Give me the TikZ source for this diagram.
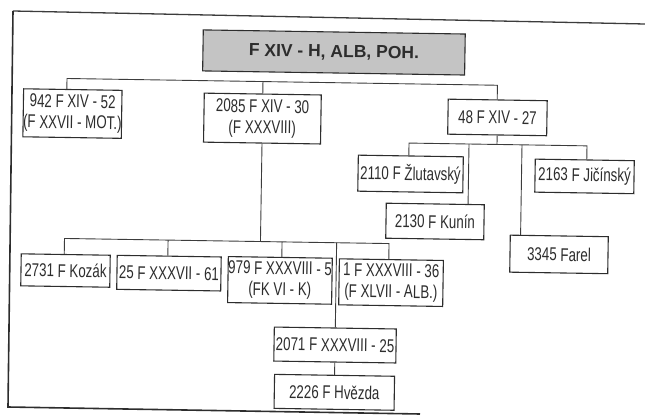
\documentclass[tikz,border=0pt]{standalone}
\usepackage{fontspec}
\setmainfont{Liberation Sans}
\newfontfamily\boxfont{Liberation Sans}[FakeStretch=0.72]
\definecolor{inkc}{RGB}{45,45,45}
\definecolor{linec}{RGB}{60,60,60}
\definecolor{titlefill}{RGB}{196,196,196}
\tikzset{
  framel/.style={draw=inkc, line width=1.6pt},
  box/.style={draw=inkc, line width=1.1pt, fill=white, inner sep=0pt, align=center,
    text=inkc, font=\boxfont\fontsize{18.5}{21}\selectfont},
  titlebox/.style={draw=inkc, line width=1.1pt, fill=titlefill, inner sep=0pt,
    minimum width=262pt, minimum height=41pt, text=inkc,
    font=\bfseries\fontsize{17.5}{21}\selectfont},
  conn/.style={draw=linec, line width=0.9pt}
}
\begin{document}
\begin{tikzpicture}[x=1pt,y=1pt]
\useasboundingbox (0,0) rectangle (645,416);
% outer frame (scan)
\coordinate (fTL) at (13,405);
\coordinate (fTR) at (645,392);
\coordinate (fBL) at (8,9);
\coordinate (fBR) at (420,2);
\draw[framel, draw=linec, line width=1.3pt] (fTL) -- (fTR);
\draw[framel] (fTL) -- (fBL) -- (fBR);

\begin{scope}[rotate around={-0.9:(322,208)}, transform shape]
% nodes
\node[titlebox] (title) at (331.5,363.7) {F XIV - H, ALB, POH.};

\node[box, minimum width=97pt, minimum height=48pt] (n942) at (71,298.5) {942 F XIV - 52\\(F XXVII - MOT.)};
\node[box, minimum width=117pt, minimum height=49pt] (n2085) at (261,296.5) {2085 F XIV - 30\\(F XXXVIII)};
\node[box, minimum width=99pt, minimum height=35pt] (n48) at (496,301.3) {48 F XIV - 27};

\node[box, minimum width=105pt, minimum height=36pt] (n2110) at (410,243.4) {2110 F Žlutavský};
\node[box, minimum width=98pt, minimum height=35pt] (n2130) at (435.2,196.3) {2130 F Kunín};
\node[box, minimum width=99pt, minimum height=33pt] (n2163) at (584,243.7) {2163 F Jičínský};
\node[box, minimum width=98pt, minimum height=37pt] (n3345) at (559.7,165.3) {3345 Farel};

\node[box, minimum width=89pt, minimum height=32pt, anchor=north] (n2731) at (66.5,158) {2731 F Kozák};
\node[box, minimum width=104pt, minimum height=34pt, anchor=north] (n25) at (170,158) {25 F XXXVII - 61};
\node[box, minimum width=104pt, minimum height=46pt, anchor=north] (n979) at (281.1,158.5) {979 F XXXVIII - 5\\(FK VI - K)};
\node[box, minimum width=104pt, minimum height=46pt, anchor=north] (n1) at (392.2,158) {1 F XXXVIII - 36\\(F XLVII - ALB.)};
\node[box, minimum width=122pt, minimum height=34pt] (n2071) at (337.2,71.2) {2071 F XXXVIII - 25};
\node[box, minimum width=120pt, minimum height=34pt] (n2226) at (337.2,23.9) {2226 F Hvězda};

% bus 1
\coordinate (b1L) at (65,333.5);
\coordinate (b1R) at (495.5,333.5);
\draw[conn] (n942.north -| b1L) -- (b1L) -- (b1R) -- (n48.north -| b1R);
\draw[conn] (n2085.north) -- (n2085.north |- b1L);

% bus 2
\coordinate (b2L) at (408,274.3);
\coordinate (b2R) at (586,274.3);
\coordinate (b2a) at (468,274.3);
\coordinate (b2b) at (521,274.3);
\draw[conn] (n48.south) -- (n48.south |- b2L);
\draw[conn] (n2110.north -| b2L) -- (b2L) -- (b2R) -- (n2163.north -| b2R);
\draw[conn] (b2a) -- (n2130.north -| b2a);
\draw[conn] (b2b) -- (n3345.north -| b2b);

% bus 3
\coordinate (b3L) at (65,173.5);
\coordinate (b3R) at (389.6,173.5);
\coordinate (b3a) at (168.6,173.5);
\coordinate (b3b) at (282.6,173.5);
\draw[conn] (n2085.south) -- (n2085.south |- b3L);
\draw[conn] (n2731.north -| b3L) -- (b3L) -- (b3R) -- (n1.north -| b3R);
\draw[conn] (b3a) -- (n25.north -| b3a);
\draw[conn] (b3b) -- (n979.north -| b3b);
\draw[conn] (n2071.north |- b3L) -- (n2071.north);
\draw[conn] (n2071.south) -- (n2226.north);
\end{scope}
\end{tikzpicture}
\end{document}
